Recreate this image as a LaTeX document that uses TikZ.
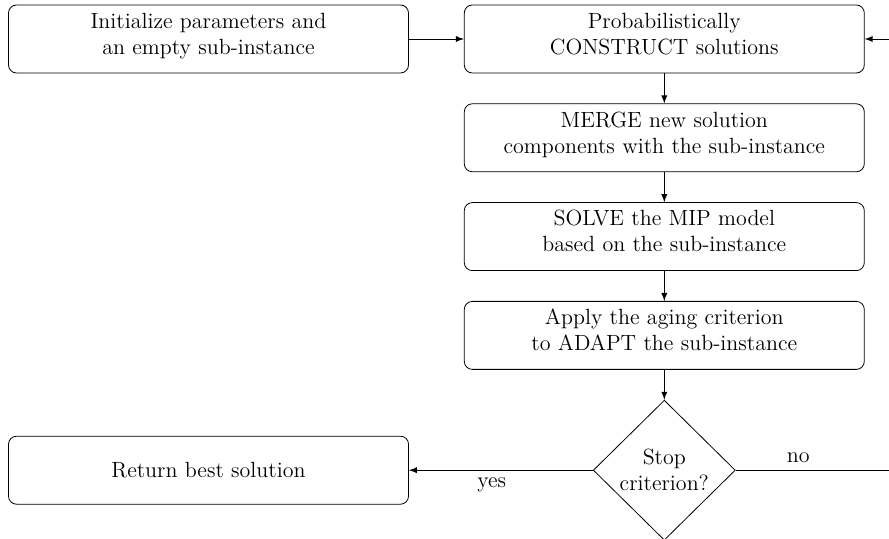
\documentclass[tikz,border=0pt]{standalone}
\usetikzlibrary{positioning,shapes.geometric}

\tikzset{
 every node/.style={font=\fontsize{11pt}{13pt}\selectfont},
 stepbox/.style={draw, rounded corners=4pt, minimum width=200pt, minimum height=34pt,
  text width=194pt, align=center, inner sep=2pt, text depth=18.5pt},
 decision/.style={draw, diamond, aspect=1, minimum width=71pt, minimum height=70pt,
  inner sep=-1.5pt, align=center},
 flow/.style={-latex}
}

\begin{document}
\begin{tikzpicture}[x=0.5pt, y=-0.5pt]
\useasboundingbox (0,0) rectangle (889,539);

% Main column
\node[stepbox] (init) at (208.5,39) {Initialize parameters and\\an empty sub-instance};
\node[stepbox, right=27.5pt of init] (construct) {Probabilistically\\CONSTRUCT solutions};
\node[stepbox, below=15pt of construct] (merge) {MERGE new solution\\components with the sub-instance};
\node[stepbox, below=15pt of merge] (solve) {SOLVE the MIP model\\based on the sub-instance};
\node[stepbox, below=15pt of solve] (adapt) {Apply the aging criterion\\to ADAPT the sub-instance};
\node[decision, below=15pt of adapt] (stop) {Stop\\criterion?};
\node[stepbox, text depth=] (return) at (init |- stop) {Return best solution};

% Loop back point (outside the visible page)
\coordinate (back) at (905,0);

% Connectors
\draw[flow] (init) -- (construct);
\draw[flow] (construct) -- (merge);
\draw[flow] (merge) -- (solve);
\draw[flow] (solve) -- (adapt);
\draw[flow] (adapt) -- (stop);
\draw[flow] (stop) -- node[below, pos=0.55] {yes} (return);
\draw[flow] (stop.east) -- node[above, pos=0.37] {no} (stop.east -| back) |- (construct.east);
\end{tikzpicture}
\end{document}
